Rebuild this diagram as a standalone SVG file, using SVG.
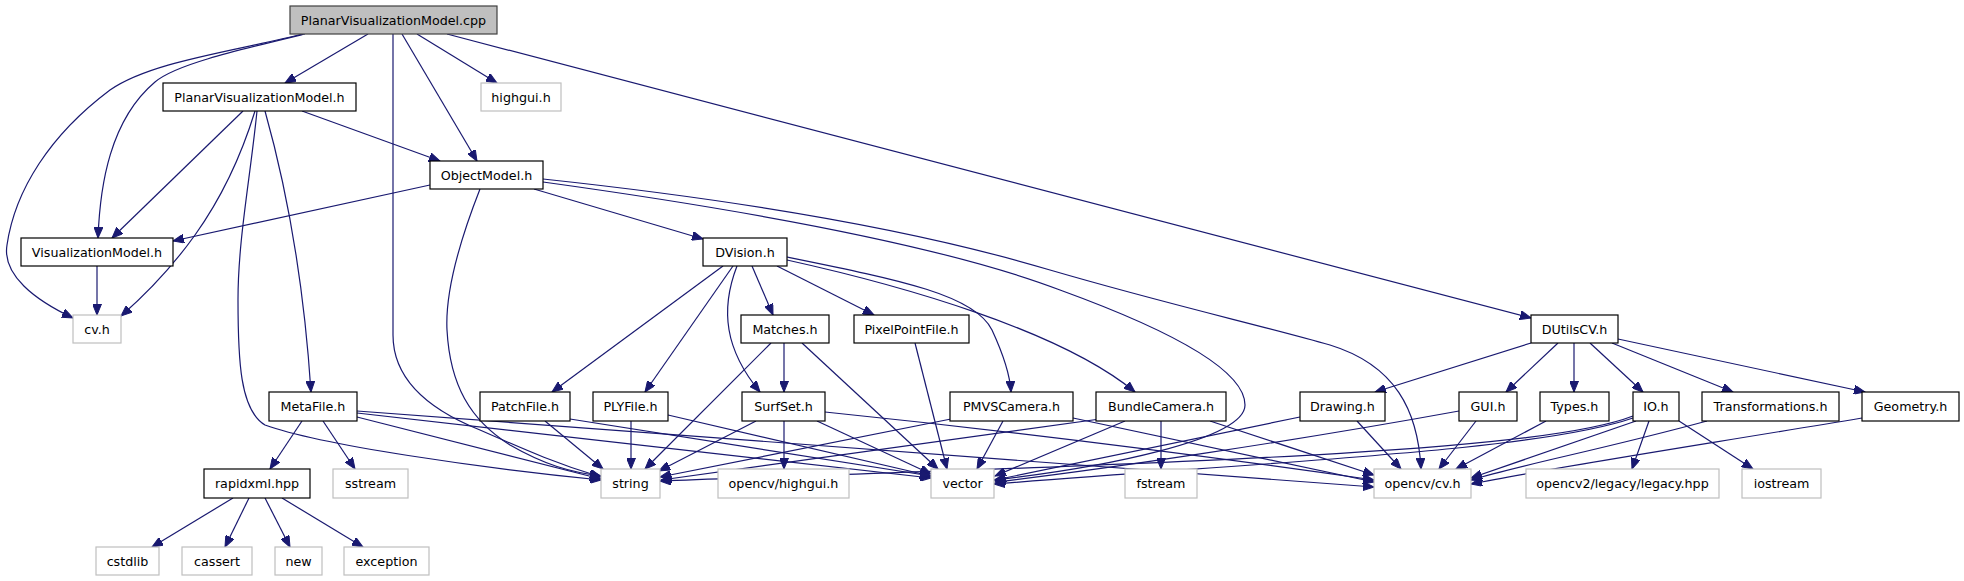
<svg xmlns="http://www.w3.org/2000/svg" width="1964" height="581" viewBox="0 0 1964 581">
<style>
.n rect{fill:#fff;stroke:#000;stroke-width:1.2}
.x rect{fill:#fff;stroke:#bfbfbf;stroke-width:1.2}
.r rect{fill:#bfbfbf;stroke:#404040;stroke-width:1.2}
text{font-family:"DejaVu Sans","Liberation Sans",sans-serif;font-size:12.7px;fill:#000;text-anchor:middle}
#edges path{fill:none;stroke:#191970;stroke-width:1.2;marker-end:url(#ah)}
</style>
<defs>
<marker id="ah" markerUnits="userSpaceOnUse" markerWidth="12" markerHeight="9" refX="11" refY="4.5" orient="auto">
<path d="M0,0 L11,4.5 L0,9 z" fill="#191970" stroke="#191970" stroke-width="1"/>
</marker>
</defs>
<rect width="1964" height="581" fill="#fff"/>
<g id="edges">
<path d="M303,34 C230,52 150,62 110,90 C50,135 15,190 7,245 C2,275 35,300 73,318"/>
<path d="M305,34 C230,52 175,65 155,82 C110,120 100,185 98,238"/>
<path d="M368,34 L285,83"/>
<path d="M393,34 L393,335 C393,380 430,410 480,430 C530,452 560,465 601,477"/>
<path d="M402,34 L477,161"/>
<path d="M417,34 L497,83"/>
<path d="M447,34 L1531,318"/>
<path d="M243,111 L112,238"/>
<path d="M255,111 C240,160 220,200 195,235 C170,270 145,295 121,316"/>
<path d="M257,111 C250,180 238,240 238,300 C238,360 240,410 265,425 C320,445 480,468 601,480"/>
<path d="M265,111 C290,200 305,300 311,392"/>
<path d="M302,111 L440,161"/>
<path d="M430,185 L173,241"/>
<path d="M480,189 C460,240 445,290 447,330 C450,385 470,420 510,445 C545,465 570,472 601,476"/>
<path d="M534,189 L703,239"/>
<path d="M543,179 C720,198 900,225 1050,270 C1170,305 1260,325 1330,345 C1395,365 1418,410 1421,469"/>
<path d="M543,182 C760,212 950,248 1060,290 C1170,330 1245,370 1245,405 C1245,440 1100,468 994,480"/>
<path d="M97,266 L97,315"/>
<path d="M723,266 L552,392"/>
<path d="M733,266 L645,392"/>
<path d="M737,266 C720,310 725,350 760,392"/>
<path d="M752,266 L773,315"/>
<path d="M777,266 L874,315"/>
<path d="M787,257 C900,280 975,295 992,330 C1005,358 1010,375 1011,392"/>
<path d="M787,260 C900,285 1060,330 1135,392"/>
<path d="M784,343 L784,392"/>
<path d="M771,343 L645,469"/>
<path d="M802,343 L938,469"/>
<path d="M915,343 L947,469"/>
<path d="M756,421 L659,471"/>
<path d="M784,421 L784,469"/>
<path d="M817,421 L931,474"/>
<path d="M825,412 C1000,430 1200,455 1374,480"/>
<path d="M951,419 L660,477"/>
<path d="M1003,421 L977,469"/>
<path d="M1073,418 L1374,482"/>
<path d="M1100,419 L661,480"/>
<path d="M1125,421 L995,476"/>
<path d="M1161,421 L1161,469"/>
<path d="M1210,421 L1374,475"/>
<path d="M1300,417 L995,480"/>
<path d="M1357,421 L1401,469"/>
<path d="M1459,411 C1300,440 1100,470 995,482"/>
<path d="M1476,421 L1439,469"/>
<path d="M1546,421 L1456,469"/>
<path d="M1633,418 C1540,450 1300,460 994,484"/>
<path d="M1633,416 C1540,452 1200,462 660,481"/>
<path d="M1636,421 L1471,478"/>
<path d="M1649,421 L1632,469"/>
<path d="M1679,421 L1753,469"/>
<path d="M1707,421 C1600,450 1520,465 1471,480"/>
<path d="M1862,418 C1700,445 1550,468 1471,484"/>
<path d="M302,421 L270,469"/>
<path d="M323,421 L355,469"/>
<path d="M357,417 L601,479"/>
<path d="M357,413 L931,478"/>
<path d="M357,411 L1374,487"/>
<path d="M545,421 L603,469"/>
<path d="M570,419 L931,476"/>
<path d="M631,421 L631,469"/>
<path d="M668,415 L931,476"/>
<path d="M233,498 L152,547"/>
<path d="M249,498 L225,547"/>
<path d="M265,498 L290,547"/>
<path d="M282,498 L363,547"/>
<path d="M1531,343 L1375,392"/>
<path d="M1558,343 L1506,392"/>
<path d="M1574,343 L1574,392"/>
<path d="M1590,343 L1643,392"/>
<path d="M1612,343 L1733,392"/>
<path d="M1618,339 L1865,392"/>
</g>
<g id="root" class="r"><rect x="290" y="6" width="207" height="28"/><text x="393.5" y="24.5">PlanarVisualizationModel.cpp</text></g>
<g id="pvmh" class="n"><rect x="163" y="83" width="193" height="28"/><text x="259.5" y="101.5">PlanarVisualizationModel.h</text></g>
<g id="highgui" class="x"><rect x="481" y="83" width="80" height="28"/><text x="521" y="101.5">highgui.h</text></g>
<g id="objmodel" class="n"><rect x="430" y="161" width="113" height="28"/><text x="486.5" y="179.5">ObjectModel.h</text></g>
<g id="vismodel" class="n"><rect x="21" y="238" width="152" height="28"/><text x="97" y="256.5">VisualizationModel.h</text></g>
<g id="dvision" class="n"><rect x="703" y="238" width="84" height="28"/><text x="745" y="256.5">DVision.h</text></g>
<g id="cvh" class="x"><rect x="73" y="315" width="48" height="28"/><text x="97" y="333.5">cv.h</text></g>
<g id="matches" class="n"><rect x="741" y="315" width="88" height="28"/><text x="785" y="333.5">Matches.h</text></g>
<g id="pixelpoint" class="n"><rect x="854" y="315" width="115" height="28"/><text x="911.5" y="333.5">PixelPointFile.h</text></g>
<g id="dutils" class="n"><rect x="1531" y="315" width="87" height="28"/><text x="1574.5" y="333.5">DUtilsCV.h</text></g>
<g id="metafile" class="n"><rect x="269" y="392" width="88" height="29"/><text x="313" y="411">MetaFile.h</text></g>
<g id="patchfile" class="n"><rect x="480" y="392" width="90" height="29"/><text x="525" y="411">PatchFile.h</text></g>
<g id="plyfile" class="n"><rect x="593" y="392" width="75" height="29"/><text x="630.5" y="411">PLYFile.h</text></g>
<g id="surfset" class="n"><rect x="742" y="392" width="83" height="29"/><text x="783.5" y="411">SurfSet.h</text></g>
<g id="pmvs" class="n"><rect x="950" y="392" width="123" height="29"/><text x="1011.5" y="411">PMVSCamera.h</text></g>
<g id="bundle" class="n"><rect x="1096" y="392" width="130" height="29"/><text x="1161" y="411">BundleCamera.h</text></g>
<g id="drawing" class="n"><rect x="1300" y="392" width="85" height="29"/><text x="1342.5" y="411">Drawing.h</text></g>
<g id="gui" class="n"><rect x="1459" y="392" width="58" height="29"/><text x="1488" y="411">GUI.h</text></g>
<g id="types" class="n"><rect x="1540" y="392" width="69" height="29"/><text x="1574.5" y="411">Types.h</text></g>
<g id="io" class="n"><rect x="1633" y="392" width="46" height="29"/><text x="1656" y="411">IO.h</text></g>
<g id="transf" class="n"><rect x="1702" y="392" width="137" height="29"/><text x="1770.5" y="411">Transformations.h</text></g>
<g id="geometry" class="n"><rect x="1862" y="392" width="97" height="29"/><text x="1910.5" y="411">Geometry.h</text></g>
<g id="rapidxml" class="n"><rect x="204" y="469" width="106" height="29"/><text x="257" y="488">rapidxml.hpp</text></g>
<g id="sstream" class="x"><rect x="333" y="469" width="75" height="29"/><text x="370.5" y="488">sstream</text></g>
<g id="string" class="x"><rect x="601" y="469" width="59" height="29"/><text x="630.5" y="488">string</text></g>
<g id="ocvhighgui" class="x"><rect x="718" y="469" width="131" height="29"/><text x="783.5" y="488">opencv/highgui.h</text></g>
<g id="vector" class="x"><rect x="931" y="469" width="63" height="29"/><text x="962.5" y="488">vector</text></g>
<g id="fstream" class="x"><rect x="1125" y="469" width="72" height="29"/><text x="1161" y="488">fstream</text></g>
<g id="ocvcv" class="x"><rect x="1374" y="469" width="97" height="29"/><text x="1422.5" y="488">opencv/cv.h</text></g>
<g id="legacy" class="x"><rect x="1526" y="469" width="193" height="29"/><text x="1622.5" y="488">opencv2/legacy/legacy.hpp</text></g>
<g id="iostream" class="x"><rect x="1742" y="469" width="79" height="29"/><text x="1781.5" y="488">iostream</text></g>
<g id="cstdlib" class="x"><rect x="96" y="547" width="63" height="28"/><text x="127.5" y="565.5">cstdlib</text></g>
<g id="cassert" class="x"><rect x="182" y="547" width="70" height="28"/><text x="217" y="565.5">cassert</text></g>
<g id="new" class="x"><rect x="275" y="547" width="47" height="28"/><text x="298.5" y="565.5">new</text></g>
<g id="exception" class="x"><rect x="344" y="547" width="85" height="28"/><text x="386.5" y="565.5">exception</text></g>
</svg>
